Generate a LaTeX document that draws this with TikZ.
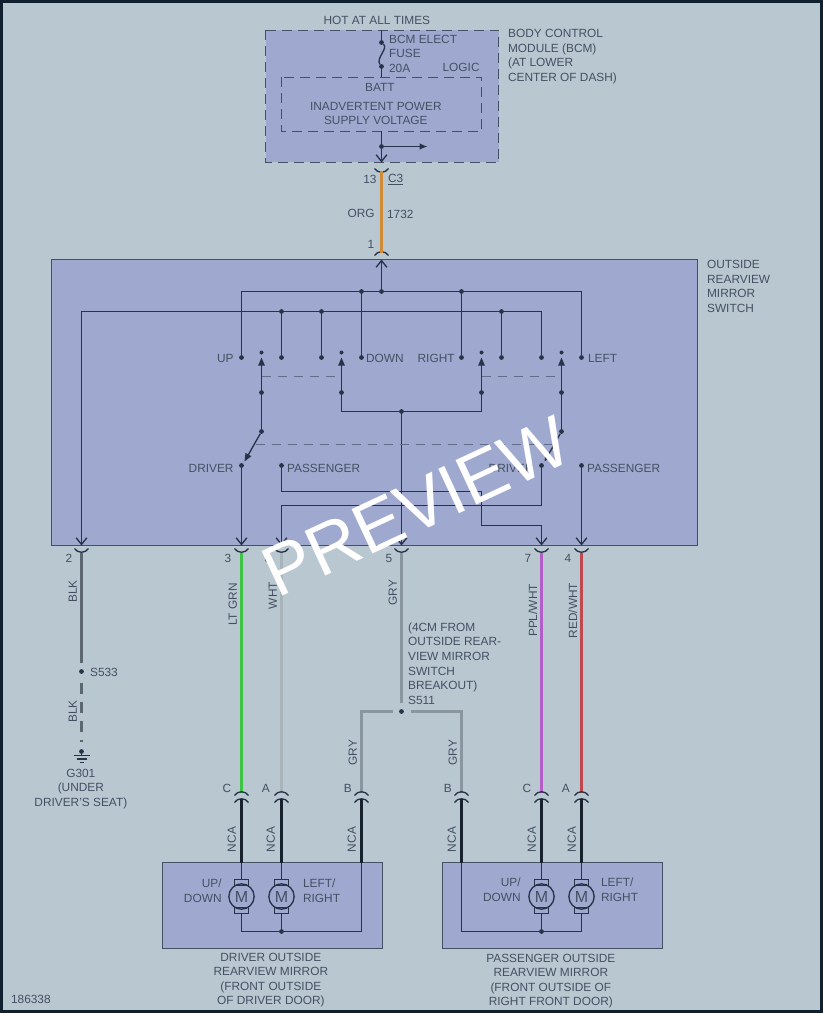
\documentclass[tikz,border=0pt]{standalone}
\usepackage{fontspec}
\setmainfont{Liberation Sans}
\usetikzlibrary{arrows.meta}
\definecolor{rahmen}{HTML}{10202E}
\definecolor{grund}{HTML}{B9C7D0}
\definecolor{modul}{HTML}{9FA9CF}
\definecolor{linie}{HTML}{273349}
\definecolor{kante}{HTML}{465064}
\definecolor{koppelgrau}{HTML}{626D88}
\definecolor{schrift}{HTML}{454F63}
\definecolor{orgwire}{HTML}{D08C34}
\definecolor{blkwire}{HTML}{5C6771}
\definecolor{grnwire}{HTML}{3CC444}
\definecolor{whtwire}{HTML}{A9B3BA}
\definecolor{grywire}{HTML}{8A969F}
\definecolor{pplwire}{HTML}{B45CC8}
\definecolor{redwire}{HTML}{BE4A50}
\definecolor{ncawire}{HTML}{18222E}
\tikzset{
	txt/.style={inner sep=0,xshift=-0.5pt,text=schrift,font=\fontsize{8.9}{10.9}\selectfont,align=center},
	links/.style={txt,anchor=west,align=left},
	rechts/.style={txt,anchor=east,align=right},
	senk/.style={txt,rotate=90},
	punkt/.style={circle,fill=linie,inner sep=0,minimum size=3.6pt},
	kabel/.style={line width=1pt,draw=linie},
	pfeil/.style={kabel,-{Straight Barb[length=5pt,width=8pt]}},
	spitze/.style={kabel,-{Triangle[length=6pt,width=4.8pt]}},
	box/.style={draw=kante,fill=modul,line width=1.2pt},
	dbox/.style={box,dash pattern=on 7.5pt off 4.5pt},
	koppel/.style={draw=koppelgrau,line width=0.75pt,dash pattern=on 7pt off 5pt},
	ader/.style={line width=2.6pt},
	gader/.style={line width=2.1pt},
	motor/.style={circle,draw=linie,line width=1pt,minimum size=19pt,inner sep=0,text=schrift,font=\fontsize{12}{12}\selectfont},
	buerste/.style={draw=linie,line width=0.8pt},
	oben/.pic={\draw[kabel] (-7,5) .. controls (-4,0) and (4,0) .. (7,5);},
	unten/.pic={\draw[kabel] (-7,0) .. controls (-4,5) and (4,5) .. (7,0);}
}
\begin{document}
\begin{tikzpicture}[x=0.75pt,y=-0.75pt]
	\fill[rahmen] (0,0) rectangle (823,1013);
	\fill[grund] (3,3) rectangle (820,1010);
	\begin{scope}[shift={(0.5,0.5)}]
	% Module
	\draw[dbox] (265,30) rectangle (498,162);
	\draw[dbox] (281,77) rectangle (481,131);
	\draw[box] (51,259) rectangle (697,545);
	\draw[box] (162,862) rectangle (382,948);
	\draw[box] (442,862) rectangle (662,948);
	% BCM
	\coordinate (bcmoben) at (381,30);
	\coordinate (logikoben) at (381,77);
	\coordinate (logikunten) at (381,131);
	\coordinate (c13spitze) at (381,162);
	\coordinate (ausgang) at (427,146);
	\node[punkt] (sicho) at (381,42) {};
	\node[punkt] (sichu) at (381,66) {};
	\node[punkt] (abzweig) at (381,146) {};
	\draw[kabel] (bcmoben) to (sicho);
	\draw[kabel] (sicho) .. controls (388,48) and (375,58) .. (sichu);
	\draw[kabel] (sichu) to (logikoben);
	\draw[pfeil] (logikunten) to (c13spitze);
	\draw[kabel,-{Latex[length=6pt,width=5pt]}] (abzweig) to (ausgang);
	\pic at (381,168) {unten};
	% Schalter, obere Schiene
	\coordinate (c1) at (381,252);
	\coordinate (c1spitze) at (381,259);
	\node[punkt] (s0) at (381,291) {};
	\node[punkt] (s1) at (361,291) {};
	\node[punkt] (s2) at (461,291) {};
	\coordinate (seckl) at (241,291);
	\coordinate (seckr) at (581,291);
	\node[punkt] (up) at (241,357) {};
	\node[punkt] (down) at (361,357) {};
	\node[punkt] (right) at (461,357) {};
	\node[punkt] (left) at (581,357) {};
	\pic at (381,250) {oben};
	\draw[pfeil] (s0) to (c1spitze);
	\draw[kabel] (up) to (seckl) to (seckr) to (left);
	\draw[kabel] (s1) to (down);
	\draw[kabel] (s2) to (right);
	% untere Schiene
	\coordinate (meckl) at (81,311);
	\coordinate (meckr) at (541,311);
	\coordinate (t2) at (81,545);
	\node[punkt] (m1) at (281,311) {};
	\node[punkt] (m2) at (321,311) {};
	\node[punkt] (m3) at (501,311) {};
	\node[punkt] (up2) at (281,357) {};
	\node[punkt] (down2) at (321,357) {};
	\node[punkt] (right2) at (501,357) {};
	\node[punkt] (left2) at (541,357) {};
	\draw[pfeil] (meckr) to (meckl) to (t2);
	\draw[kabel] (m1) to (up2);
	\draw[kabel] (m2) to (down2);
	\draw[kabel] (m3) to (right2);
	\draw[kabel] (meckr) to (left2);
	% Kontakte
	\node[punkt,minimum size=3pt] (k1) at (261,352) {};
	\node[punkt,minimum size=3pt] (k2) at (341,352) {};
	\node[punkt,minimum size=3pt] (k3) at (481,352) {};
	\node[punkt,minimum size=3pt] (k4) at (561,352) {};
	\node[punkt] (a1) at (261,392) {};
	\node[punkt] (a2) at (341,392) {};
	\node[punkt] (a3) at (481,392) {};
	\node[punkt] (a4) at (561,392) {};
	\draw[spitze] (a1) to (261,357);
	\draw[spitze] (a2) to (341,357);
	\draw[spitze] (a3) to (481,357);
	\draw[spitze] (a4) to (561,357);
	\draw[koppel] (261,376) to (341,376);
	\draw[koppel] (481,376) to (561,376);
	\node[punkt] (quer) at (401,411) {};
	\coordinate (qeckl) at (341,411);
	\coordinate (qeckr) at (481,411);
	\draw[kabel] (a2) to (qeckl) to (qeckr) to (a3);
	\coordinate (t5) at (401,545);
	\draw[pfeil] (quer) to (t5);
	% Umschalter
	\node[punkt] (w1) at (261,431) {};
	\node[punkt] (w2) at (561,431) {};
	\node[punkt] (driver) at (241,465) {};
	\node[punkt] (pass) at (281,465) {};
	\node[punkt] (driver2) at (541,465) {};
	\node[punkt] (pass2) at (581,465) {};
	\draw[kabel] (a1) to (w1);
	\draw[kabel] (a4) to (w2);
	\draw[spitze] (w1) to (244,461);
	\draw[spitze] (w2) to (544,461);
	\draw[koppel] (255,444) to (553,444);
	\coordinate (t3) at (241,545);
	\coordinate (t8) at (281,545);
	\coordinate (t7) at (541,545);
	\coordinate (t4) at (581,545);
	\draw[pfeil] (driver) to (t3);
	\draw[pfeil] (pass2) to (t4);
	\draw[kabel] (pass) to (281,491) to (481,491) to (481,525) to (541,525);
	\draw[pfeil] (541,525) to (t7);
	\draw[pfeil] (driver2) to (541,505) to (281,505) to (t8);
	% Stecker unten am Schalter
	\pic at (81,548) {unten};
	\pic at (241,548) {unten};
	\pic at (281,548) {unten};
	\pic at (401,548) {unten};
	\pic at (541,548) {unten};
	\pic at (581,548) {unten};
	% Adern
	\coordinate (b13) at (381,171);
	\coordinate (b2) at (81,552);
	\coordinate (b3) at (241,552);
	\coordinate (b8) at (281,552);
	\coordinate (b5) at (401,552);
	\coordinate (b7) at (541,552);
	\coordinate (b4) at (581,552);
	\coordinate (e3) at (241,792);
	\coordinate (e8) at (281,792);
	\coordinate (e7) at (541,792);
	\coordinate (e4) at (581,792);
	\coordinate (eb1) at (361,792);
	\coordinate (eb2) at (461,792);
	\draw[ader,orgwire] (b13) to (c1);
	\draw[ader,grnwire] (b3) to (e3);
	\draw[gader,whtwire] (b8) to (e8);
	\draw[gader,pplwire] (b7) to (e7);
	\draw[gader,redwire] (b4) to (e4);
	% Masse
	\node[punkt] (s533) at (81,671) {};
	\node[punkt] (g301) at (81,751) {};
	\draw[gader,blkwire] (b2) to (81,662);
	\draw[gader,blkwire,dash pattern=on 8.25pt off 6pt] (81,682) to (81,741);
	\draw[kabel] (g301) to (81,755);
	\draw[kabel] (73,755) to (89,755);
	\draw[kabel] (76,758.5) to (86,758.5);
	\draw[kabel] (79,762) to (83,762);
	% Spleiss
	\node[punkt] (s511) at (401,711) {};
	\draw[gader,grywire] (b5) to (401,702);
	\draw[gader,grywire] (392,711) to (361,711) to (eb1);
	\draw[gader,grywire] (410,711) to (461,711) to (eb2);
	% Stecker an den Spiegeln
	\pic at (241,790) {oben};
	\pic at (281,790) {oben};
	\pic at (361,790) {oben};
	\pic at (461,790) {oben};
	\pic at (541,790) {oben};
	\pic at (581,790) {oben};
	\pic at (241,797) {oben};
	\pic at (281,797) {oben};
	\pic at (361,797) {oben};
	\pic at (461,797) {oben};
	\pic at (541,797) {oben};
	\pic at (581,797) {oben};
	\draw[ader,ncawire] (241,798) to (241,862);
	\draw[ader,ncawire] (281,798) to (281,862);
	\draw[ader,ncawire] (361,798) to (361,862);
	\draw[ader,ncawire] (461,798) to (461,862);
	\draw[ader,ncawire] (541,798) to (541,862);
	\draw[ader,ncawire] (581,798) to (581,862);
	% Motoren
	\node[motor] (mud) at (241,896) {M};
	\node[motor] (mlr) at (281,896) {M};
	\node[motor] (mud2) at (541,896) {M};
	\node[motor] (mlr2) at (581,896) {M};
	\draw[buerste] (234,879) rectangle (248,885);
	\draw[buerste] (234,907) rectangle (248,913);
	\draw[buerste] (274,879) rectangle (288,885);
	\draw[buerste] (274,907) rectangle (288,913);
	\draw[buerste] (534,879) rectangle (548,885);
	\draw[buerste] (534,907) rectangle (548,913);
	\draw[buerste] (574,879) rectangle (588,885);
	\draw[buerste] (574,907) rectangle (588,913);
	\node[punkt] (sum) at (281,931) {};
	\node[punkt] (sum2) at (541,931) {};
	\draw[kabel] (241,862) to (241,879);
	\draw[kabel] (281,862) to (281,879);
	\draw[kabel] (361,862) to (361,931) to (241,931) to (241,913);
	\draw[kabel] (sum) to (281,913);
	\draw[kabel] (541,862) to (541,879);
	\draw[kabel] (581,862) to (581,879);
	\draw[kabel] (461,862) to (461,931) to (581,931) to (581,913);
	\draw[kabel] (sum2) to (541,913);
	% Beschriftung
	\node[txt] (hot) at (377,20) {HOT AT ALL TIMES};
	\node[links] (bcmname) at (508,56) {BODY CONTROL\\MODULE (BCM)\\(AT LOWER\\CENTER OF DASH)};
	\node[links] (fuse) at (389,53) {BCM ELECT\\FUSE\\20A};
	\node[rechts] (logic) at (480,67) {LOGIC};
	\node[txt] (batt) at (380,87) {BATT};
	\node[txt] (inadv) at (376,113) {INADVERTENT POWER\\SUPPLY VOLTAGE};
	\node[rechts] (n13) at (377,179) {13};
	\node[links] (c3) at (388,179) {\underline{C3}};
	\node[rechts] (org) at (375,213) {ORG};
	\node[links] (n1732) at (387,214) {1732};
	\node[txt] (n1) at (371,244) {1};
	\node[links] (swname) at (707,286) {OUTSIDE\\REARVIEW\\MIRROR\\SWITCH};
	\node[rechts] (tup) at (234,358) {UP};
	\node[links] (tdown) at (366,358) {DOWN};
	\node[rechts] (tright) at (455,358) {RIGHT};
	\node[links] (tleft) at (588,358) {LEFT};
	\node[rechts] (tdrv) at (234,468) {DRIVER};
	\node[links] (tpas) at (287,468) {PASSENGER};
	\node[rechts] (tdrv2) at (534,468) {DRIVER};
	\node[links] (tpas2) at (587,468) {PASSENGER};
	\node[txt] (n2) at (69,558) {2};
	\node[txt] (n3) at (228,558) {3};
	\node[txt] (n8) at (268,558) {8};
	\node[txt] (n5) at (389,558) {5};
	\node[txt] (n7) at (528,558) {7};
	\node[txt] (n4) at (568,558) {4};
	\node[senk] (wblk) at (73,591) {BLK};
	\node[senk] (wgrn) at (233,604) {LT GRN};
	\node[senk] (wwht) at (273,595) {WHT};
	\node[senk] (wgry) at (393,592) {GRY};
	\node[senk] (wppl) at (533,610) {PPL/WHT};
	\node[senk] (wred) at (573,610) {RED/WHT};
	\node[links] (ts533) at (90,672) {S533};
	\node[senk] (wblk2) at (73,711) {BLK};
	\node[txt] (tg301) at (81,788.5) {G301\\(UNDER\\DRIVER'S SEAT)};
	\node[links] (ts511) at (408,663) {(4CM FROM\\OUTSIDE REAR-\\VIEW MIRROR\\SWITCH\\BREAKOUT)\\S511};
	\node[senk] (wgry2) at (353,752) {GRY};
	\node[senk] (wgry3) at (453,752) {GRY};
	\node[txt] (tc) at (227,788) {C};
	\node[txt] (ta) at (266,788) {A};
	\node[txt] (tb) at (348,788) {B};
	\node[txt] (tb2) at (448,788) {B};
	\node[txt] (tc2) at (527,788) {C};
	\node[txt] (ta2) at (566,788) {A};
	\node[senk] (nca1) at (232,839) {NCA};
	\node[senk] (nca2) at (271,839) {NCA};
	\node[senk] (nca3) at (352,839) {NCA};
	\node[senk] (nca4) at (452,839) {NCA};
	\node[senk] (nca5) at (532,839) {NCA};
	\node[senk] (nca6) at (572,839) {NCA};
	\node[rechts] (tud) at (222,890) {UP/\\DOWN};
	\node[links] (tlr) at (303,890) {LEFT/\\RIGHT};
	\node[rechts] (tud2) at (521,889) {UP/\\DOWN};
	\node[links] (tlr2) at (601,889) {LEFT/\\RIGHT};
	\node[txt] (tmir) at (271,979.5) {DRIVER OUTSIDE\\REARVIEW MIRROR\\(FRONT OUTSIDE\\OF DRIVER DOOR)};
	\node[txt] (tmir2) at (551,980.5) {PASSENGER OUTSIDE\\REARVIEW MIRROR\\(FRONT OUTSIDE OF\\RIGHT FRONT DOOR)};
	\node[links] (nummer) at (11,999) {186338};
	% Wasserzeichen
	\node[inner sep=0,anchor=base west,rotate=25,text=white,font=\fontsize{53.5}{54}\selectfont] (preview) at (277,598) {PREVIEW};
	\end{scope}
\end{tikzpicture}
\end{document}
